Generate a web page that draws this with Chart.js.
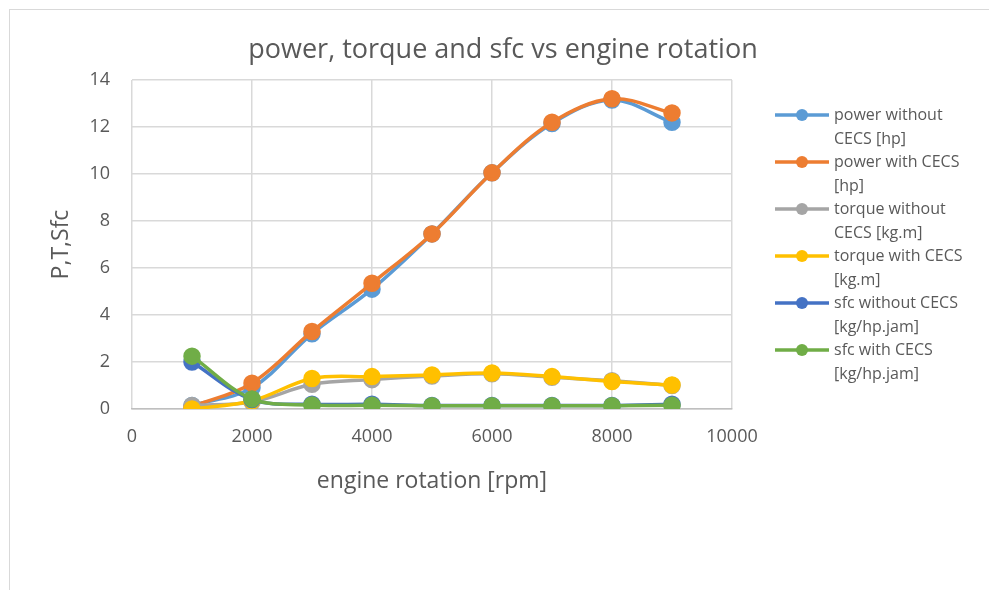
<!DOCTYPE html>
<html>
<head>
<meta charset="utf-8">
<script src="https://cdn.jsdelivr.net/npm/chart.js@4.4.1/dist/chart.umd.min.js"></script>
<style>
  html, body { margin: 0; padding: 0; background: #fff; }
  #wrap { position: relative; width: 989px; height: 590px; overflow: hidden; }
  #frame { position: absolute; left: 9px; top: 9px; width: 1000px; height: 600px; border: 1px solid #d9d9d9; box-sizing: border-box; }
  #chart { position: absolute; left: 0; top: 0; }
  #legend { position: absolute; left: 775px; top: 103px; font-family: "Open Sans", sans-serif; font-size: 16px; color: #595959; line-height: 23.5px; }
  .item { display: flex; align-items: flex-start; }
  .item canvas { flex: none; }
  .item span { margin-left: 5px; width: 160px; white-space: nowrap; }
</style>
</head>
<body>
<div id="wrap">
  <div id="frame"></div>
  <canvas id="chart" width="989" height="590"></canvas>
  <div id="legend"></div>
</div>
<script>
// Data
const rpm = [1000, 2000, 3000, 4000, 5000, 6000, 7000, 8000, 9000];
const powerWithout = [0.15, 0.9, 3.2, 5.1, 7.45, 10.05, 12.15, 13.15, 12.2];
const powerWith = [0.1, 1.1, 3.3, 5.35, 7.45, 10.05, 12.2, 13.2, 12.6];
const torqueWithout = [0.15, 0.3, 1.05, 1.25, 1.4, 1.5, 1.35, 1.2, 1.0];
const torqueWith = [0.0, 0.35, 1.3, 1.38, 1.45, 1.53, 1.38, 1.17, 1.02];
const sfcWithout = [2.0, 0.4, 0.2, 0.2, 0.15, 0.15, 0.15, 0.15, 0.2];
const sfcWith = [2.25, 0.43, 0.17, 0.16, 0.14, 0.14, 0.14, 0.14, 0.16];

const seriesNames = [
    ['power without', 'CECS [hp]'],
    ['power with CECS', '[hp]'],
    ['torque without', 'CECS [kg.m]'],
    ['torque with CECS', '[kg.m]'],
    ['sfc without CECS', '[kg/hp.jam]'],
    ['sfc with CECS', '[kg/hp.jam]']
];
const seriesValues = [powerWithout, powerWith, torqueWithout, torqueWith, sfcWithout, sfcWith];
const seriesColors = ['#5B9BD5', '#ED7D31', '#A5A5A5', '#FFC000', '#4472C4', '#70AD47'];

const xTicks = [0, 2000, 4000, 6000, 8000, 10000];
const chartTitle = 'power, torque and sfc vs engine rotation';
const textColor = '#595959';
const gridColor = '#d9d9d9';

function makeDataset(i) {
    return {
        label: seriesNames[i].join(' '),
        data: rpm.map((x, k) => ({ x: x, y: seriesValues[i][k] })),
        borderColor: seriesColors[i],
        backgroundColor: seriesColors[i],
        pointBackgroundColor: seriesColors[i],
        pointBorderColor: seriesColors[i],
        borderWidth: 3.5,
        pointRadius: 7,
        pointHoverRadius: 7,
        tension: 0.35,
        fill: false,
        order: seriesValues.length - i
    };
}

// Title drawn centred on the whole frame, as in the original
const titlePlugin = {
    id: 'frameTitle',
    afterDraw(chart) {
        const g = chart.ctx;
        g.save();
        g.fillStyle = textColor;
        g.font = '27px "Open Sans"';
        g.textAlign = 'center';
        g.textBaseline = 'middle';
        g.fillText(chartTitle, 503, 50);
        g.restore();
    }
};

const ctx = document.getElementById('chart').getContext('2d');
const chart = new Chart(ctx, {
    type: 'line',
    data: { datasets: seriesValues.map((v, i) => makeDataset(i)) },
    plugins: [titlePlugin],
    options: {
        responsive: false,
        animation: false,
        layout: { padding: { left: 40, right: 257, top: 80, bottom: 91 } },
        plugins: {
            legend: { display: false },
            tooltip: { enabled: false }
        },
        scales: {
            x: {
                type: 'linear',
                min: 0,
                max: 10000,
                afterBuildTicks: function(scale) {
                    scale.ticks = xTicks.map(v => ({ value: v }));
                },
                afterFit: function(scale) { scale.height = 90; },
                grid: { color: gridColor, lineWidth: 1.5, drawTicks: false },
                border: { color: '#bfbfbf', width: 1.5 },
                ticks: {
                    color: textColor,
                    padding: 17,
                    maxRotation: 0,
                    font: { family: 'Open Sans', size: 18 },
                    callback: v => String(v)
                },
                title: {
                    display: true,
                    text: 'engine rotation [rpm]',
                    color: textColor,
                    font: { family: 'Open Sans', size: 23 },
                    padding: { top: 0, bottom: 4 }
                }
            },
            y: {
                min: 0,
                max: 14,
                afterFit: function(scale) { scale.width = 92; },
                grid: { color: gridColor, lineWidth: 1.5, drawTicks: false },
                border: { display: false },
                ticks: {
                    stepSize: 2,
                    color: textColor,
                    padding: 22,
                    font: { family: 'Open Sans', size: 18 }
                },
                title: {
                    display: true,
                    text: 'P,T,Sfc',
                    color: textColor,
                    font: { family: 'Open Sans', size: 23 },
                    padding: { top: 8, bottom: 0 }
                }
            }
        }
    }
});

// Legend built from the chart datasets (two-line labels like the original)
const legend = document.getElementById('legend');
chart.data.datasets.forEach((ds, i) => {
    const item = document.createElement('div');
    item.className = 'item';
    const c = document.createElement('canvas');
    c.width = 54; c.height = 24;
    const g = c.getContext('2d');
    g.strokeStyle = ds.borderColor;
    g.lineWidth = 3.5;
    g.beginPath(); g.moveTo(0, 12); g.lineTo(54, 12); g.stroke();
    g.fillStyle = ds.borderColor;
    g.beginPath(); g.arc(27, 12, 6, 0, Math.PI * 2); g.fill();
    const span = document.createElement('span');
    span.innerHTML = seriesNames[i][0] + '<br>' + seriesNames[i][1];
    item.appendChild(c);
    item.appendChild(span);
    legend.appendChild(item);
});
</script>
</body>
</html>
